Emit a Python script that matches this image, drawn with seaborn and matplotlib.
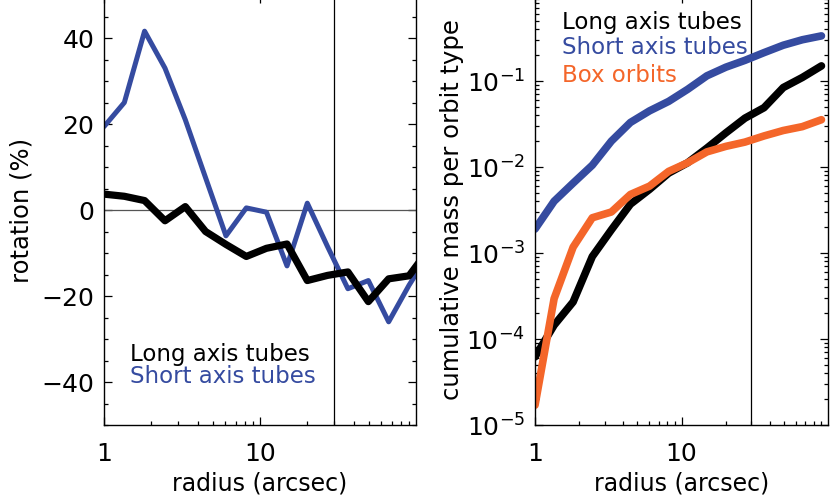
import matplotlib
matplotlib.use("Agg")
import matplotlib.pyplot as plt
import matplotlib.ticker as mticker
import seaborn as sns
import pandas as pd

# radial bins (arcsec), log spaced
radius = [1.0, 1.35, 1.82, 2.46, 3.32, 4.48, 6.05, 8.17, 11.0, 14.9,
          20.1, 27.1, 36.6, 49.5, 66.8, 90.2, 121.7]

# rotation (%) per orbit family
rot_long = [3.7, 3.2, 2.2, -2.5, 0.8, -5.0, -8.0, -10.8, -8.9, -7.9,
            -16.4, -15.2, -14.4, -21.3, -16.0, -15.3, -9.0]
rot_short = [19.4, 25.0, 41.6, 33.0, 21.0, 7.5, -6.0, 0.5, -0.5, -13.0,
             1.6, -8.5, -18.3, -16.4, -26.0, -17.5, -10.0]

# cumulative mass per orbit type
mass_long = [6.2e-5, 1.45e-4, 2.7e-4, 9.1e-4, 1.86e-3, 3.7e-3, 5.5e-3, 8.5e-3,
             1.12e-2, 1.66e-2, 2.5e-2, 3.7e-2, 4.9e-2, 8.4e-2, 0.11, 0.15]
mass_short = [1.9e-3, 4.0e-3, 6.5e-3, 1.05e-2, 2.0e-2, 3.3e-2, 4.5e-2, 5.8e-2,
              8.0e-2, 0.115, 0.145, 0.174, 0.214, 0.261, 0.302, 0.335]
mass_box = [1.7e-5, 2.95e-4, 1.17e-3, 2.57e-3, 3.0e-3, 4.8e-3, 6.0e-3, 8.9e-3,
            1.12e-2, 1.5e-2, 1.74e-2, 1.95e-2, 2.3e-2, 2.66e-2, 2.95e-2, 3.55e-2]

labels = ["Long axis tubes", "Short axis tubes", "Box orbits"]
black = "black"
blue = "#354ba0"
orange = "#f4662a"

sns.set_style("ticks")
plt.rcParams["font.family"] = ["DejaVu Sans"]
plt.rcParams["axes.linewidth"] = 1.0
plt.rcParams["text.color"] = "black"
plt.rcParams["axes.labelcolor"] = "black"

fig = plt.figure(figsize=(8.3, 4.96), dpi=100)
ax1 = fig.add_axes([0.1253, 0.1431, 0.3759, 0.8669])
ax2 = fig.add_axes([0.6446, 0.1431, 0.3530, 0.8669])

rot = pd.DataFrame({"radius": radius, "long": rot_long, "short": rot_short})
mass = pd.DataFrame({"radius": radius[:16], "long": mass_long,
                     "short": mass_short, "box": mass_box})

# left panel: rotation
ax1.axhline(0, color="#555555", lw=0.9, zorder=1)
ax1.axvline(30, color="black", lw=0.9, zorder=1)
sns.lineplot(data=rot, x="radius", y="short", color=blue, lw=3.6, ax=ax1)
sns.lineplot(data=rot, x="radius", y="long", color=black, lw=5.2, ax=ax1)
ax1.set_xscale("log")
ax1.set_xlim(1, 100)
ax1.set_ylim(-50, 50)
ax1.yaxis.set_major_locator(mticker.MultipleLocator(20))
ax1.yaxis.set_minor_locator(mticker.MultipleLocator(5))
ax1.set_ylabel("rotation (%)", fontsize=17.5, labelpad=6)
ax1.text(0.083, 0.163, labels[0], color=black, fontsize=16.5,
         transform=ax1.transAxes, va="center")
ax1.text(0.083, 0.112, labels[1], color=blue, fontsize=16.5,
         transform=ax1.transAxes, va="center")

# right panel: cumulative mass
ax2.axvline(30, color="black", lw=0.9, zorder=1)
sns.lineplot(data=mass, x="radius", y="short", color=blue, lw=5.5, ax=ax2)
sns.lineplot(data=mass, x="radius", y="long", color=black, lw=5.5, ax=ax2)
sns.lineplot(data=mass, x="radius", y="box", color=orange, lw=5.5, ax=ax2)
ax2.set_xscale("log")
ax2.set_yscale("log")
ax2.set_xlim(1, 100)
ax2.set_ylim(1e-5, 1)
ax2.set_yticks([1e-5, 1e-4, 1e-3, 1e-2, 1e-1, 1])
ax2.set_yticklabels([r"$\mathdefault{10^{-5}}$", r"$\mathdefault{10^{-4}}$",
                     r"$\mathdefault{10^{-3}}$", r"$\mathdefault{10^{-2}}$",
                     r"$\mathdefault{10^{-1}}$", ""])
ax2.set_ylabel("cumulative mass per orbit type", fontsize=17.5, labelpad=2)
for lab, col, yy in zip(labels, [black, blue, orange], [0.935, 0.877, 0.814]):
    ax2.text(0.092, yy, lab, color=col, fontsize=16.5,
             transform=ax2.transAxes, va="center")

for ax in (ax1, ax2):
    ax.set_xticks([1, 10])
    ax.set_xticklabels(["1", "10"])
    ax.xaxis.set_minor_locator(mticker.LogLocator(base=10, subs=range(2, 10)))
    ax.xaxis.set_minor_formatter(mticker.NullFormatter())
    ax.set_xlabel("radius (arcsec)", fontsize=17, labelpad=4)
    ax.tick_params(which="both", direction="in", top=True, right=True,
                   labelsize=18, width=0.9, colors="black")
    ax.tick_params(which="major", length=6)
    ax.tick_params(which="minor", length=3)
    ax.tick_params(axis="x", which="major", pad=12)
    ax.tick_params(axis="y", which="major", pad=7)
    for s in ax.spines.values():
        s.set_visible(True)
        s.set_color("black")

ax2.yaxis.set_minor_locator(mticker.LogLocator(base=10, subs=range(2, 10), numticks=20))
ax2.yaxis.set_minor_formatter(mticker.NullFormatter())
ax2.set_xlim(1, 100)
ax2.set_ylim(1e-5, 1)

fig.savefig("out.png", dpi=100)
